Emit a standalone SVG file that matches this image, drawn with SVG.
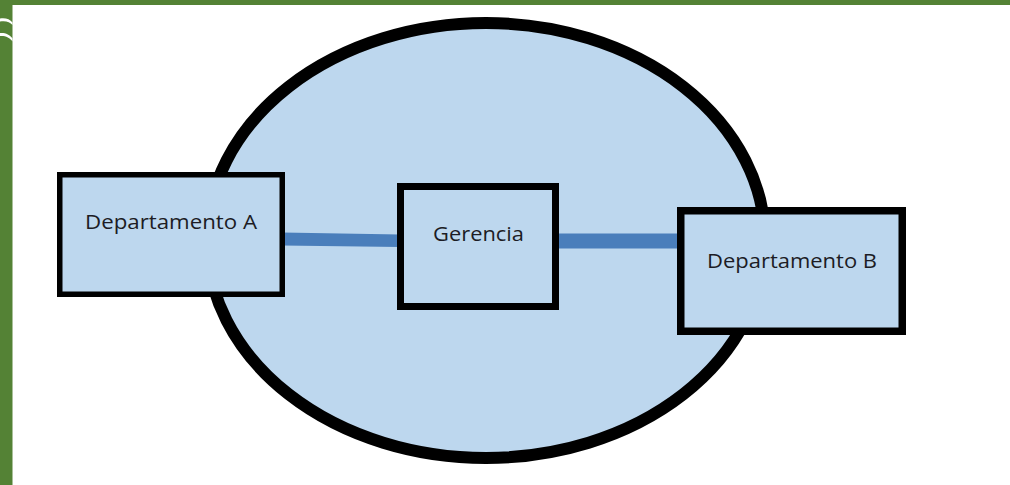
<svg xmlns="http://www.w3.org/2000/svg" width="1010" height="485" viewBox="0 0 1010 485">
  <style>
    .node { fill: #BDD7EE; stroke: #000; }
    .label { font-family: "Open Sans", "DejaVu Sans", sans-serif; font-size: 20px; fill: #1c1c24; text-anchor: middle; }
    .link { fill: #4A7EBB; }
  </style>

  <rect width="1010" height="485" fill="#FFFFFF"/>

  <!-- page frame -->
  <g id="frame" fill="#548235">
    <rect x="0" y="0" width="1010" height="5"/>
    <rect x="0" y="0" width="12.5" height="485"/>
    <path d="M0,18.5 C5,17.5 10,19 12.5,22.5 L12.5,25 C10,21.5 5,20.5 0,21.5 Z" fill="#FFFFFF"/>
    <path d="M0,33 C5,32.5 10,34.5 12.5,38.5 L12.5,41.5 C10,37.5 5,35.5 0,36 Z" fill="#FFFFFF"/>
  </g>

  <!-- organisation boundary -->
  <g id="organizacion">
    <ellipse cx="486" cy="240.5" rx="279" ry="217.5" fill="#BDD7EE" stroke="#000" stroke-width="12"/>
  </g>

  <!-- connectors -->
  <g id="connectors">
    <polygon class="link" points="282,232.5 400,234.5 400,247 282,245.5"/>
    <rect class="link" x="555" y="233.5" width="127" height="15"/>
  </g>

  <g id="departamento-a">
    <rect class="node" x="59.75" y="174.75" width="222.5" height="119.5" stroke-width="5.5"/>
    <text class="label" x="171" y="229" textLength="172" lengthAdjust="spacingAndGlyphs">Departamento A</text>
  </g>

  <g id="gerencia">
    <rect class="node" x="400.5" y="186.5" width="155" height="120" stroke-width="7"/>
    <text class="label" x="478.5" y="241" textLength="91" lengthAdjust="spacingAndGlyphs">Gerencia</text>
  </g>

  <g id="departamento-b">
    <rect class="node" x="680.75" y="210.75" width="221.5" height="120.5" stroke-width="7.5"/>
    <text class="label" x="792" y="268" textLength="170" lengthAdjust="spacingAndGlyphs">Departamento B</text>
  </g>
</svg>
